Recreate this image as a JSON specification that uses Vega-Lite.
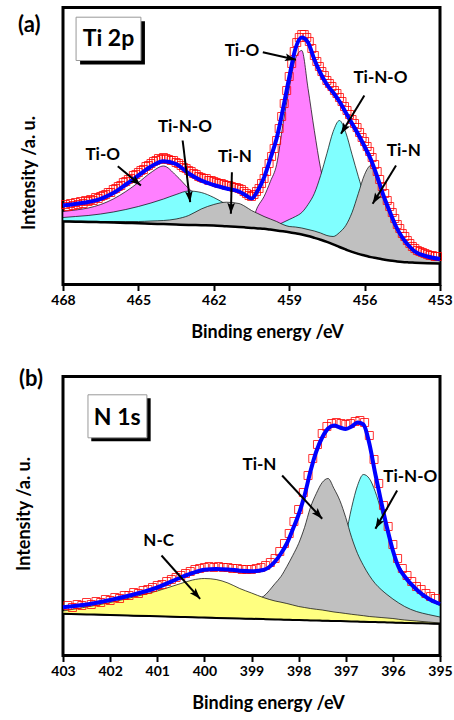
{
"$schema":"https://vega.github.io/schema/vega-lite/v6.json",
"background":"white",
"padding":{"left":13,"top":5.5,"right":1,"bottom":0},
"autosize":{"type":"pad"},
"config":{
 "view":{"stroke":"black","strokeWidth":3},
 "font":"Lato",
 "axis":{"labelFont":"Lato","labelFontWeight":"bold","labelFontSize":14,"labelColor":"black","titleFont":"Lato","titleFontWeight":"bold","titleFontSize":18,"titleColor":"black","domain":false,"grid":false,"tickColor":"black","tickWidth":2}
},
"datasets":{
"a":[
{"E":468,"base":63.0,"mag":73,"cyan":67,"gray":63.5,"fit":79},
{"E":467.5,"base":62.8,"mag":74.5,"cyan":68,"gray":63.3,"fit":80.5},
{"E":467,"base":62.6,"mag":76.5,"cyan":69,"gray":63.2,"fit":82.5},
{"E":466.5,"base":62.3,"mag":80,"cyan":70.5,"gray":63,"fit":85.7},
{"E":466,"base":62.0,"mag":85.5,"cyan":72.5,"gray":63,"fit":91.5},
{"E":465.5,"base":61.6,"mag":93,"cyan":75,"gray":63,"fit":100},
{"E":465,"base":61.2,"mag":102,"cyan":78,"gray":63,"fit":109},
{"E":464.5,"base":60.8,"mag":112,"cyan":81.5,"gray":63.5,"fit":118},
{"E":464,"base":60.4,"mag":118.5,"cyan":85.5,"gray":64,"fit":123.3},
{"E":463.5,"base":60.0,"mag":109,"cyan":90,"gray":65.5,"fit":120.5},
{"E":463,"base":59.6,"mag":96,"cyan":93.5,"gray":69,"fit":111},
{"E":462.5,"base":59.3,"mag":85,"cyan":92,"gray":75.5,"fit":104},
{"E":462,"base":59.0,"mag":76,"cyan":87,"gray":80,"fit":99.5},
{"E":461.5,"base":58.3,"mag":69,"cyan":80,"gray":82.3,"fit":96},
{"E":461,"base":57.6,"mag":64,"cyan":72,"gray":81,"fit":93},
{"E":460.75,"base":57.1,"mag":62,"cyan":69,"gray":78,"fit":89.5},
{"E":460.5,"base":56.6,"mag":64,"cyan":67,"gray":74,"fit":86},
{"E":460.25,"base":56.1,"mag":78,"cyan":63,"gray":71,"fit":94},
{"E":460,"base":55.7,"mag":88,"cyan":60,"gray":68,"fit":107},
{"E":459.75,"base":54.9,"mag":103,"cyan":58,"gray":65.5,"fit":126},
{"E":459.5,"base":54.0,"mag":120,"cyan":59,"gray":63,"fit":146},
{"E":459.25,"base":53.2,"mag":160,"cyan":62,"gray":60,"fit":175},
{"E":459,"base":52.3,"mag":196,"cyan":65,"gray":58,"fit":207},
{"E":458.75,"base":51.2,"mag":226,"cyan":68,"gray":57.5,"fit":236},
{"E":458.5,"base":50.0,"mag":234,"cyan":72,"gray":56.5,"fit":247},
{"E":458.25,"base":48.5,"mag":196,"cyan":80,"gray":55,"fit":242},
{"E":458,"base":46.7,"mag":154,"cyan":91,"gray":53.5,"fit":225},
{"E":457.75,"base":44.8,"mag":116,"cyan":109,"gray":51.5,"fit":211},
{"E":457.5,"base":42.7,"mag":90,"cyan":131,"gray":49,"fit":200},
{"E":457.25,"base":40.2,"mag":72,"cyan":153,"gray":48,"fit":192},
{"E":457,"base":37.5,"mag":62,"cyan":164,"gray":52,"fit":183},
{"E":456.75,"base":35.0,"mag":56,"cyan":152,"gray":59,"fit":172},
{"E":456.5,"base":32.6,"mag":50,"cyan":130,"gray":72,"fit":161},
{"E":456.25,"base":30.6,"mag":46,"cyan":108,"gray":91,"fit":150},
{"E":456,"base":29.0,"mag":42,"cyan":88,"gray":110,"fit":138},
{"E":455.75,"base":27.4,"mag":39,"cyan":72,"gray":119,"fit":125},
{"E":455.5,"base":26.3,"mag":36,"cyan":60,"gray":104,"fit":108},
{"E":455.25,"base":25.0,"mag":33,"cyan":52,"gray":87,"fit":89},
{"E":455,"base":24.0,"mag":30,"cyan":46,"gray":72,"fit":73},
{"E":454.75,"base":23.2,"mag":28.5,"cyan":41,"gray":59,"fit":58},
{"E":454.5,"base":22.5,"mag":27,"cyan":36,"gray":48,"fit":47},
{"E":454.25,"base":22.1,"mag":25.5,"cyan":32,"gray":40,"fit":39},
{"E":454,"base":21.8,"mag":24,"cyan":29,"gray":34,"fit":33},
{"E":453.5,"base":21.3,"mag":22.5,"cyan":25,"gray":27,"fit":28},
{"E":453,"base":21.0,"mag":21.5,"cyan":22.5,"gray":23.5,"fit":25.5}
],
"aPts":[
{"E":467.9,"I":80},{"E":467.8,"I":78},{"E":467.7,"I":81},{"E":467.6,"I":79},{"E":467.5,"I":82},{"E":467.4,"I":80},{"E":467.3,"I":83},{"E":467.2,"I":81},{"E":467.1,"I":84},
{"E":467,"I":83},{"E":466.9,"I":85},{"E":466.8,"I":84},{"E":466.7,"I":87},{"E":466.6,"I":86},{"E":466.5,"I":88},{"E":466.4,"I":89},{"E":466.3,"I":90},{"E":466.2,"I":92},{"E":466.1,"I":92},
{"E":466,"I":95},{"E":465.9,"I":96},{"E":465.8,"I":98},{"E":465.7,"I":99},{"E":465.6,"I":102},{"E":465.5,"I":103},{"E":465.4,"I":105},{"E":465.3,"I":106},{"E":465.2,"I":109},{"E":465.1,"I":110},
{"E":465,"I":112},{"E":464.9,"I":114},{"E":464.8,"I":115},{"E":464.7,"I":118},{"E":464.6,"I":119},{"E":464.5,"I":121},{"E":464.4,"I":123},{"E":464.3,"I":124},{"E":464.2,"I":126},{"E":464.1,"I":125},
{"E":464,"I":127},{"E":463.9,"I":126},{"E":463.8,"I":125},{"E":463.7,"I":124},{"E":463.6,"I":124},{"E":463.5,"I":122},{"E":463.4,"I":121},{"E":463.3,"I":119},{"E":463.2,"I":117},{"E":463.1,"I":116},
{"E":463,"I":114},{"E":462.9,"I":113},{"E":462.8,"I":111},{"E":462.7,"I":110},{"E":462.6,"I":108},{"E":462.5,"I":107},{"E":462.4,"I":106},{"E":462.3,"I":106},{"E":462.2,"I":104},{"E":462.1,"I":104},
{"E":462,"I":103},{"E":461.9,"I":102},{"E":461.8,"I":101},{"E":461.7,"I":101},{"E":461.6,"I":100},{"E":461.5,"I":99},{"E":461.4,"I":99},{"E":461.3,"I":98},{"E":461.2,"I":97},{"E":461.1,"I":97},
{"E":461,"I":96},{"E":460.9,"I":95},{"E":460.8,"I":93},{"E":460.7,"I":91},{"E":460.6,"I":89},{"E":460.5,"I":88},{"E":460.4,"I":90},{"E":460.3,"I":93},{"E":460.2,"I":96},{"E":460.1,"I":101},
{"E":460,"I":106},{"E":459.9,"I":113},{"E":459.8,"I":121},{"E":459.7,"I":128},{"E":459.6,"I":136},{"E":459.5,"I":144},{"E":459.4,"I":156},{"E":459.3,"I":168},{"E":459.2,"I":181},{"E":459.1,"I":194},
{"E":459,"I":208},{"E":458.9,"I":221},{"E":458.8,"I":233},{"E":458.7,"I":242},{"E":458.6,"I":247},{"E":458.5,"I":250},{"E":458.4,"I":250},{"E":458.3,"I":247},{"E":458.2,"I":243},{"E":458.1,"I":236},
{"E":458,"I":229},{"E":457.9,"I":223},{"E":457.8,"I":218},{"E":457.7,"I":213},{"E":457.6,"I":209},{"E":457.5,"I":204},{"E":457.4,"I":201},{"E":457.3,"I":198},{"E":457.2,"I":194},{"E":457.1,"I":191},
{"E":457,"I":187},{"E":456.9,"I":183},{"E":456.8,"I":178},{"E":456.7,"I":174},{"E":456.6,"I":170},{"E":456.5,"I":165},{"E":456.4,"I":161},{"E":456.3,"I":157},{"E":456.2,"I":152},{"E":456.1,"I":147},
{"E":456,"I":143},{"E":455.9,"I":138},{"E":455.8,"I":133},{"E":455.7,"I":127},{"E":455.6,"I":120},{"E":455.5,"I":113},{"E":455.4,"I":105},{"E":455.3,"I":98},{"E":455.2,"I":91},{"E":455.1,"I":84},
{"E":455,"I":78},{"E":454.9,"I":72},{"E":454.8,"I":66},{"E":454.7,"I":60},{"E":454.6,"I":56},{"E":454.5,"I":51},{"E":454.4,"I":48},{"E":454.3,"I":44},{"E":454.2,"I":41},{"E":454.1,"I":38},
{"E":454,"I":36},{"E":453.9,"I":34},{"E":453.8,"I":33},{"E":453.7,"I":32},{"E":453.6,"I":31},{"E":453.5,"I":30},{"E":453.4,"I":29},{"E":453.3,"I":29},{"E":453.2,"I":28},{"E":453.1,"I":28}
],
"b":[
{"E":403,"base":41.7,"yel":44.5,"gray":43,"cyan":42.5,"fit":48.3},
{"E":402.5,"base":41.1,"yel":48.5,"gray":43,"cyan":42,"fit":51},
{"E":402,"base":40.5,"yel":53,"gray":43,"cyan":41.5,"fit":55.5},
{"E":401.5,"base":39.8,"yel":58.5,"gray":43.5,"cyan":41,"fit":61},
{"E":401,"base":39.2,"yel":64.5,"gray":44,"cyan":40.5,"fit":68},
{"E":400.5,"base":38.6,"yel":72,"gray":45,"cyan":40,"fit":78},
{"E":400.25,"base":38.3,"yel":75.5,"gray":46,"cyan":40,"fit":82.5},
{"E":400,"base":37.9,"yel":77,"gray":47,"cyan":39.5,"fit":85.7},
{"E":399.75,"base":37.6,"yel":76,"gray":48.5,"cyan":39.5,"fit":86.5},
{"E":399.5,"base":37.3,"yel":72.5,"gray":50,"cyan":39.5,"fit":86},
{"E":399.25,"base":37.0,"yel":67,"gray":52,"cyan":39.5,"fit":84.8},
{"E":399,"base":36.7,"yel":62.5,"gray":55,"cyan":39.5,"fit":84.3},
{"E":398.75,"base":36.4,"yel":58,"gray":59,"cyan":40,"fit":85.5},
{"E":398.5,"base":36.1,"yel":54.5,"gray":72,"cyan":41,"fit":94},
{"E":398.375,"base":35.9,"yel":53.3,"gray":79,"cyan":42,"fit":102},
{"E":398.25,"base":35.8,"yel":52,"gray":89,"cyan":43,"fit":112},
{"E":398.125,"base":35.6,"yel":50.5,"gray":100,"cyan":45,"fit":126},
{"E":398,"base":35.5,"yel":49,"gray":112,"cyan":47,"fit":141},
{"E":397.875,"base":35.3,"yel":48,"gray":128,"cyan":50,"fit":160},
{"E":397.75,"base":35.1,"yel":47,"gray":148,"cyan":54,"fit":184},
{"E":397.625,"base":35.0,"yel":46.2,"gray":162,"cyan":59,"fit":204},
{"E":397.5,"base":34.8,"yel":45.5,"gray":173,"cyan":66,"fit":218},
{"E":397.375,"base":34.7,"yel":44.5,"gray":177,"cyan":74,"fit":227},
{"E":397.25,"base":34.5,"yel":43.5,"gray":167,"cyan":85,"fit":230},
{"E":397.125,"base":34.4,"yel":42.8,"gray":155,"cyan":100,"fit":228},
{"E":397,"base":34.2,"yel":42,"gray":138,"cyan":120,"fit":226.5},
{"E":396.875,"base":34.0,"yel":41.2,"gray":118,"cyan":148,"fit":229},
{"E":396.75,"base":33.9,"yel":40.5,"gray":102,"cyan":170,"fit":233},
{"E":396.625,"base":33.7,"yel":39.8,"gray":90,"cyan":181,"fit":231},
{"E":396.5,"base":33.6,"yel":39,"gray":80,"cyan":177,"fit":212},
{"E":396.375,"base":33.4,"yel":38.5,"gray":72,"cyan":164,"fit":182},
{"E":396.25,"base":33.3,"yel":38,"gray":66,"cyan":145,"fit":154},
{"E":396.125,"base":33.1,"yel":37.5,"gray":61,"cyan":124,"fit":128},
{"E":396,"base":32.9,"yel":37,"gray":56.5,"cyan":104,"fit":105},
{"E":395.875,"base":32.8,"yel":36.2,"gray":52.5,"cyan":91,"fit":88},
{"E":395.75,"base":32.6,"yel":35.5,"gray":49,"cyan":81,"fit":79},
{"E":395.5,"base":32.3,"yel":34.5,"gray":44,"cyan":66,"fit":66},
{"E":395.25,"base":32.0,"yel":33.5,"gray":41,"cyan":56,"fit":57},
{"E":395,"base":31.7,"yel":32.5,"gray":38.5,"cyan":50,"fit":51.5}
],
"bPts":[
{"E":402.9,"I":50},{"E":402.8,"I":48},{"E":402.7,"I":51},{"E":402.6,"I":50},{"E":402.5,"I":53},{"E":402.4,"I":51},{"E":402.3,"I":54},{"E":402.2,"I":53},{"E":402.1,"I":56},
{"E":402,"I":55},{"E":401.9,"I":58},{"E":401.8,"I":57},{"E":401.7,"I":60},{"E":401.6,"I":60},{"E":401.5,"I":63},{"E":401.4,"I":62},{"E":401.3,"I":65},{"E":401.2,"I":66},{"E":401.1,"I":68},
{"E":401,"I":70},{"E":400.9,"I":71},{"E":400.8,"I":74},{"E":400.7,"I":76},{"E":400.6,"I":78},{"E":400.5,"I":80},{"E":400.4,"I":82},{"E":400.3,"I":84},{"E":400.2,"I":86},{"E":400.1,"I":87},
{"E":400,"I":88},{"E":399.9,"I":89},{"E":399.8,"I":88},{"E":399.7,"I":89},{"E":399.6,"I":88},{"E":399.5,"I":88},{"E":399.4,"I":87},{"E":399.3,"I":87},{"E":399.2,"I":86},{"E":399.1,"I":86},
{"E":399,"I":86},{"E":398.9,"I":87},{"E":398.8,"I":88},{"E":398.7,"I":90},{"E":398.6,"I":93},{"E":398.5,"I":97},{"E":398.4,"I":104},{"E":398.3,"I":112},{"E":398.2,"I":122},{"E":398.1,"I":134},
{"E":398,"I":146},{"E":397.9,"I":163},{"E":397.8,"I":180},{"E":397.7,"I":197},{"E":397.6,"I":211},{"E":397.5,"I":222},{"E":397.4,"I":229},{"E":397.3,"I":232},{"E":397.2,"I":233},{"E":397.1,"I":232},
{"E":397,"I":231},{"E":396.9,"I":232},{"E":396.8,"I":234},{"E":396.7,"I":235},{"E":396.6,"I":233},{"E":396.5,"I":220},{"E":396.4,"I":196},{"E":396.3,"I":172},{"E":396.2,"I":150},{"E":396.1,"I":129},
{"E":396,"I":111},{"E":395.9,"I":97},{"E":395.8,"I":87},{"E":395.7,"I":80},{"E":395.6,"I":74},{"E":395.5,"I":69},{"E":395.4,"I":66},{"E":395.3,"I":62},{"E":395.2,"I":59},{"E":395.1,"I":57}
],
"ann":[
{"p":"a","id":1,"label":"Ti-O","lx":466.42,"ly":130,"ax":465.82,"ay":118.3,"bx":464.9,"by":99},
{"p":"a","id":2,"label":"Ti-N-O","lx":463.15,"ly":158,"ax":463.24,"ay":144,"bx":462.94,"by":82.3},
{"p":"a","id":3,"label":"Ti-N","lx":461.16,"ly":128,"ax":461.28,"ay":112.3,"bx":461.32,"by":70.7},
{"p":"a","id":4,"label":"Ti-O","lx":460.88,"ly":233.3,"ax":460.05,"ay":232.3,"bx":458.73,"by":224.7},
{"p":"a","id":5,"label":"Ti-N-O","lx":455.37,"ly":206.7,"ax":456.01,"ay":189,"bx":456.94,"by":150.7},
{"p":"a","id":6,"label":"Ti-N","lx":454.44,"ly":133.3,"ax":454.75,"ay":119,"bx":455.68,"by":80.7},
{"p":"b","id":7,"label":"N-C","lx":400.97,"ly":114.7,"ax":400.91,"ay":100,"bx":400.09,"by":56.7},
{"p":"b","id":8,"label":"Ti-N","lx":398.83,"ly":190.3,"ax":398.35,"ay":180,"bx":397.5,"by":136.7},
{"p":"b","id":9,"label":"Ti-N-O","lx":395.63,"ly":178.7,"ax":395.91,"ay":165,"bx":396.37,"by":126.7}
]
},
"vconcat":[
{
"width":377,"height":277,
"layer":[
{"data":{"name":"a"},"mark":{"type":"area","interpolate":"monotone","fill":"#ff80ff","stroke":"black","strokeWidth":0.7},
 "encoding":{
  "x":{"field":"E","type":"quantitative","title":"Binding energy /eV","scale":{"domain":[453,468],"reverse":true,"nice":false,"zero":false},
   "axis":{"values":[468,466.5,465,463.5,462,460.5,459,457.5,456,454.5,453],"labelExpr":"datum.value % 3 === 0 ? datum.label : ''","tickSize":{"condition":{"test":"datum.value % 3 === 0","value":6},"value":3},"labelPadding":3,"labelOverlap":false,"labelFlush":false,"labelBound":false,"titleX":204,"titleY":53,"titleBaseline":"alphabetic","titleAlign":"center"}},
  "y":{"field":"mag","type":"quantitative","title":"Intensity /a. u.","scale":{"domain":[0,277],"nice":false,"zero":false},
   "axis":{"labels":false,"ticks":false,"titleX":-25,"titleY":165}},
  "y2":{"field":"base"}}},
{"data":{"name":"a"},"mark":{"type":"area","interpolate":"monotone","fill":"#80ffff","stroke":"black","strokeWidth":0.7},
 "encoding":{"x":{"field":"E","type":"quantitative","title":"Binding energy /eV"},"y":{"field":"cyan","type":"quantitative","title":"Intensity /a. u."},"y2":{"field":"base"}}},
{"data":{"name":"a"},"mark":{"type":"area","interpolate":"monotone","fill":"#c0c0c0","stroke":"black","strokeWidth":0.7},
 "encoding":{"x":{"field":"E","type":"quantitative","title":"Binding energy /eV"},"y":{"field":"gray","type":"quantitative","title":"Intensity /a. u."},"y2":{"field":"base"}}},
{"data":{"name":"a"},"mark":{"type":"line","interpolate":"monotone","color":"black","strokeWidth":2.5},
 "encoding":{"x":{"field":"E","type":"quantitative","title":"Binding energy /eV"},"y":{"field":"base","type":"quantitative","title":"Intensity /a. u."}}},
{"data":{"name":"aPts"},"mark":{"type":"point","shape":"square","size":64,"filled":false,"color":"#ff0000","strokeWidth":1,"opacity":0.8},
 "encoding":{"x":{"field":"E","type":"quantitative","title":"Binding energy /eV"},"y":{"field":"I","type":"quantitative","title":"Intensity /a. u."}}},
{"data":{"name":"a"},"mark":{"type":"line","interpolate":"monotone","color":"#0000ff","strokeWidth":4},
 "encoding":{"x":{"field":"E","type":"quantitative","title":"Binding energy /eV"},"y":{"field":"fit","type":"quantitative","title":"Intensity /a. u."}}},
{"data":{"name":"ann"},"transform":[{"filter":"datum.p === 'a'"}],"mark":{"type":"rule","color":"black","strokeWidth":2},
 "encoding":{"x":{"field":"ax","type":"quantitative","title":"Binding energy /eV"},"y":{"field":"ay","type":"quantitative","title":"Intensity /a. u."},"x2":{"field":"bx"},"y2":{"field":"by"}}},
{"data":{"name":"ann"},"transform":[{"filter":"datum.id === 1"}],"mark":{"type":"point","shape":"M0,0L0.7,2L0,1.6L-0.7,2Z","size":121,"filled":true,"color":"black","opacity":1,"angle":129.6},
 "encoding":{"x":{"field":"bx","type":"quantitative","title":"Binding energy /eV"},"y":{"field":"by","type":"quantitative","title":"Intensity /a. u."}}},
{"data":{"name":"ann"},"transform":[{"filter":"datum.id === 2"}],"mark":{"type":"point","shape":"M0,0L0.7,2L0,1.6L-0.7,2Z","size":121,"filled":true,"color":"black","opacity":1,"angle":173},
 "encoding":{"x":{"field":"bx","type":"quantitative","title":"Binding energy /eV"},"y":{"field":"by","type":"quantitative","title":"Intensity /a. u."}}},
{"data":{"name":"ann"},"transform":[{"filter":"datum.id === 3"}],"mark":{"type":"point","shape":"M0,0L0.7,2L0,1.6L-0.7,2Z","size":121,"filled":true,"color":"black","opacity":1,"angle":181.4},
 "encoding":{"x":{"field":"bx","type":"quantitative","title":"Binding energy /eV"},"y":{"field":"by","type":"quantitative","title":"Intensity /a. u."}}},
{"data":{"name":"ann"},"transform":[{"filter":"datum.id === 4"}],"mark":{"type":"point","shape":"M0,0L0.7,2L0,1.6L-0.7,2Z","size":121,"filled":true,"color":"black","opacity":1,"angle":102.9},
 "encoding":{"x":{"field":"bx","type":"quantitative","title":"Binding energy /eV"},"y":{"field":"by","type":"quantitative","title":"Intensity /a. u."}}},
{"data":{"name":"ann"},"transform":[{"filter":"datum.id === 5 || datum.id === 6"}],"mark":{"type":"point","shape":"M0,0L0.7,2L0,1.6L-0.7,2Z","size":121,"filled":true,"color":"black","opacity":1,"angle":211.3},
 "encoding":{"x":{"field":"bx","type":"quantitative","title":"Binding energy /eV"},"y":{"field":"by","type":"quantitative","title":"Intensity /a. u."}}},
{"data":{"name":"ann"},"transform":[{"filter":"datum.p === 'a'"}],"mark":{"type":"text","font":"Lato","fontWeight":"bold","fontSize":17,"color":"black","align":"center","baseline":"middle"},
 "encoding":{"x":{"field":"lx","type":"quantitative","title":"Binding energy /eV"},"y":{"field":"ly","type":"quantitative","title":"Intensity /a. u."},"text":{"field":"label"}}},
{"data":{"values":[{}]},"mark":{"type":"rect","color":"black"},
 "encoding":{"x":{"datum":467.32},"x2":{"datum":464.74},"y":{"datum":263.3},"y2":{"datum":220}}},
{"data":{"values":[{}]},"mark":{"type":"rect","fill":"white","stroke":"#999999","strokeWidth":1},
 "encoding":{"x":{"datum":467.48},"x2":{"datum":464.9},"y":{"datum":267.3},"y2":{"datum":224}}},
{"data":{"values":[{}]},"mark":{"type":"text","font":"Lato","fontWeight":"bold","fontSize":23,"color":"black","align":"center","baseline":"middle"},
 "encoding":{"x":{"datum":466.19},"y":{"datum":245.7},"text":{"value":"Ti 2p"}}},
{"data":{"values":[{}]},"mark":{"type":"text","font":"Lato","fontWeight":"bold","fontSize":22,"color":"black","align":"center","baseline":"middle"},
 "encoding":{"x":{"datum":469.34},"y":{"datum":260},"text":{"value":"(a)"}}}
]
},
{
"width":377,"height":279,
"layer":[
{"data":{"name":"b"},"mark":{"type":"area","interpolate":"monotone","fill":"#80ffff","stroke":"black","strokeWidth":0.7},
 "encoding":{
  "x":{"field":"E","type":"quantitative","title":"Binding energy /eV","scale":{"domain":[395,403],"reverse":true,"nice":false,"zero":false},
   "axis":{"values":[403,402.5,402,401.5,401,400.5,400,399.5,399,398.5,398,397.5,397,396.5,396,395.5,395],"labelExpr":"datum.value % 1 === 0 ? datum.label : ''","tickSize":{"condition":{"test":"datum.value % 1 === 0","value":6},"value":3},"labelPadding":3,"labelOverlap":false,"labelFlush":false,"labelBound":false,"titleX":205,"titleY":53,"titleBaseline":"alphabetic","titleAlign":"center"}},
  "y":{"field":"cyan","type":"quantitative","title":"Intensity /a. u.","scale":{"domain":[0,279],"nice":false,"zero":false},
   "axis":{"labels":false,"ticks":false,"titleX":-30,"titleY":137}},
  "y2":{"field":"base"}}},
{"data":{"name":"b"},"mark":{"type":"area","interpolate":"monotone","fill":"#c0c0c0","stroke":"black","strokeWidth":0.7},
 "encoding":{"x":{"field":"E","type":"quantitative","title":"Binding energy /eV"},"y":{"field":"gray","type":"quantitative","title":"Intensity /a. u."},"y2":{"field":"base"}}},
{"data":{"name":"b"},"mark":{"type":"area","interpolate":"monotone","fill":"#ffff80","stroke":"black","strokeWidth":0.7},
 "encoding":{"x":{"field":"E","type":"quantitative","title":"Binding energy /eV"},"y":{"field":"yel","type":"quantitative","title":"Intensity /a. u."},"y2":{"field":"base"}}},
{"data":{"name":"b"},"mark":{"type":"line","interpolate":"monotone","color":"black","strokeWidth":2},
 "encoding":{"x":{"field":"E","type":"quantitative","title":"Binding energy /eV"},"y":{"field":"base","type":"quantitative","title":"Intensity /a. u."}}},
{"data":{"name":"bPts"},"mark":{"type":"point","shape":"square","size":64,"filled":false,"color":"#ff0000","strokeWidth":1,"opacity":0.8},
 "encoding":{"x":{"field":"E","type":"quantitative","title":"Binding energy /eV"},"y":{"field":"I","type":"quantitative","title":"Intensity /a. u."}}},
{"data":{"name":"b"},"mark":{"type":"line","interpolate":"monotone","color":"#0000ff","strokeWidth":4},
 "encoding":{"x":{"field":"E","type":"quantitative","title":"Binding energy /eV"},"y":{"field":"fit","type":"quantitative","title":"Intensity /a. u."}}},
{"data":{"name":"ann"},"transform":[{"filter":"datum.p === 'b'"}],"mark":{"type":"rule","color":"black","strokeWidth":2},
 "encoding":{"x":{"field":"ax","type":"quantitative","title":"Binding energy /eV"},"y":{"field":"ay","type":"quantitative","title":"Intensity /a. u."},"x2":{"field":"bx"},"y2":{"field":"by"}}},
{"data":{"name":"ann"},"transform":[{"filter":"datum.id === 7 || datum.id === 8"}],"mark":{"type":"point","shape":"M0,0L0.7,2L0,1.6L-0.7,2Z","size":121,"filled":true,"color":"black","opacity":1,"angle":137.6},
 "encoding":{"x":{"field":"bx","type":"quantitative","title":"Binding energy /eV"},"y":{"field":"by","type":"quantitative","title":"Intensity /a. u."}}},
{"data":{"name":"ann"},"transform":[{"filter":"datum.id === 9"}],"mark":{"type":"point","shape":"M0,0L0.7,2L0,1.6L-0.7,2Z","size":121,"filled":true,"color":"black","opacity":1,"angle":209.5},
 "encoding":{"x":{"field":"bx","type":"quantitative","title":"Binding energy /eV"},"y":{"field":"by","type":"quantitative","title":"Intensity /a. u."}}},
{"data":{"name":"ann"},"transform":[{"filter":"datum.p === 'b'"}],"mark":{"type":"text","font":"Lato","fontWeight":"bold","fontSize":17,"color":"black","align":"center","baseline":"middle"},
 "encoding":{"x":{"field":"lx","type":"quantitative","title":"Binding energy /eV"},"y":{"field":"ly","type":"quantitative","title":"Intensity /a. u."},"text":{"field":"label"}}},
{"data":{"values":[{}]},"mark":{"type":"rect","color":"black"},
 "encoding":{"x":{"datum":402.4},"x2":{"datum":401.14},"y":{"datum":257.2},"y2":{"datum":214.2}}},
{"data":{"values":[{}]},"mark":{"type":"rect","fill":"white","stroke":"#999999","strokeWidth":1},
 "encoding":{"x":{"datum":402.47},"x2":{"datum":401.22},"y":{"datum":260.7},"y2":{"datum":217.7}}},
{"data":{"values":[{}]},"mark":{"type":"text","font":"Lato","fontWeight":"bold","fontSize":23,"color":"black","align":"center","baseline":"middle"},
 "encoding":{"x":{"datum":401.85},"y":{"datum":237.7},"text":{"value":"N 1s"}}},
{"data":{"values":[{}]},"mark":{"type":"text","font":"Lato","fontWeight":"bold","fontSize":22,"color":"black","align":"center","baseline":"middle"},
 "encoding":{"x":{"datum":403.68},"y":{"datum":276.7},"text":{"value":"(b)"}}}
]
}
],
"spacing":92,
"bounds":"flush"
}
